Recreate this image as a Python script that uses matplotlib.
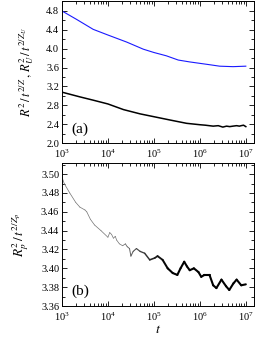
import numpy as np
import matplotlib
matplotlib.use("Agg")
import matplotlib.pyplot as plt
from matplotlib.collections import LineCollection
from matplotlib.ticker import MultipleLocator, LogLocator, NullFormatter

plt.rcParams['font.family'] = ['Liberation Serif', 'DejaVu Serif']
plt.rcParams['mathtext.fontset'] = 'stix'
plt.rcParams['xtick.direction'] = 'in'
plt.rcParams['ytick.direction'] = 'in'

# panel (a): log10(t) and values
logt_u = [3.0, 3.32, 3.68, 4.0, 4.41, 4.77, 5.0, 5.27, 5.53, 5.78, 6.0, 6.22, 6.43, 6.72, 7.0]
ru = [4.80, 4.62, 4.41, 4.29, 4.14, 3.99, 3.92, 3.85, 3.76, 3.72, 3.69, 3.66, 3.63, 3.62, 3.63]

logt_r = [3.0, 3.39, 3.68, 4.0, 4.34, 4.70, 5.0, 5.35, 5.71, 6.0, 6.12, 6.29, 6.40,
          6.50, 6.58, 6.65, 6.72, 6.80, 6.86, 6.90, 6.95, 7.0]
rr = [3.08, 2.98, 2.91, 2.83, 2.71, 2.62, 2.56, 2.49, 2.42, 2.39, 2.38, 2.36, 2.37,
      2.34, 2.36, 2.35, 2.36, 2.37, 2.36, 2.37, 2.38, 2.35]

# panel (b)
logt_p = [3.00, 3.05, 3.17, 3.30, 3.39, 3.50, 3.54, 3.62, 3.71, 3.85, 4.00, 4.04, 4.08,
          4.12, 4.16, 4.19, 4.25, 4.32, 4.38, 4.42, 4.47, 4.50, 4.55, 4.62, 4.70, 4.80,
          4.91, 5.02, 5.08, 5.19, 5.30, 5.41, 5.51, 5.58, 5.66, 5.72, 5.78, 5.87, 5.97,
          6.03, 6.10, 6.21, 6.29, 6.36, 6.47, 6.57, 6.64, 6.73, 6.80, 6.90, 7.00]
rp = [3.497, 3.490, 3.480, 3.470, 3.465, 3.462, 3.460, 3.452, 3.446, 3.440, 3.433, 3.438, 3.436,
      3.432, 3.434, 3.430, 3.426, 3.424, 3.426, 3.423, 3.421, 3.413, 3.418, 3.421, 3.418, 3.416,
      3.409, 3.411, 3.413, 3.409, 3.400, 3.395, 3.393, 3.400, 3.407, 3.402, 3.398, 3.400, 3.396,
      3.391, 3.393, 3.393, 3.382, 3.379, 3.388, 3.381, 3.377, 3.384, 3.388, 3.382, 3.383]

fig = plt.figure(figsize=(2.57, 3.40), dpi=100)
ax1 = fig.add_axes([0.241, 0.579, 0.747, 0.418])
ax2 = fig.add_axes([0.241, 0.100, 0.747, 0.421])

ax1.plot(10 ** np.array(logt_u), ru, color='#1a1aff', lw=0.8)
ax1.plot(10 ** np.array(logt_r), rr, color='black', lw=1.1)

# panel (b): line gets heavier as the noise grows
tp = 10 ** np.array(logt_p)
pts = np.column_stack([tp, rp])
segs = np.stack([pts[:-1], pts[1:]], axis=1)
mid = (np.array(logt_p[:-1]) + np.array(logt_p[1:])) / 2
w = np.clip((mid - 4.3) / 1.0, 0, 1)
lc = LineCollection(segs, linewidths=0.5 + 1.0 * w,
                    colors=[(0.45 * (1 - v),) * 3 for v in w], capstyle='round',
                    joinstyle='round')
ax2.add_collection(lc)

for ax in (ax1, ax2):
    ax.set_xscale('log')
    ax.set_xlim(1e3, 1.5e7)
    ax.xaxis.set_major_locator(LogLocator(base=10, numticks=10))
    ax.xaxis.set_minor_locator(LogLocator(base=10, subs=np.arange(2, 10), numticks=20))
    ax.xaxis.set_minor_formatter(NullFormatter())
    ax.tick_params(which='both', top=True, right=True, labelsize=7.5, width=0.6)
    ax.tick_params(axis='y', pad=2)
    ax.tick_params(axis='x', pad=3.5)
    ax.tick_params(which='major', length=3.5)
    ax.tick_params(which='minor', length=2)
    for s in ax.spines.values():
        s.set_linewidth(0.7)

ax1.set_ylim(2.0, 5.01)
ax1.yaxis.set_major_locator(MultipleLocator(0.4))
ax1.yaxis.set_minor_locator(MultipleLocator(0.2))
ax1.yaxis.set_major_formatter(matplotlib.ticker.FormatStrFormatter('%.1f'))
ax1.set_ylabel(r'$R^2\,/\,t^{2/Z}\,,\,R_U^2\,/\,t^{2/Z_U}$', fontsize=9, labelpad=7)
ax1.text(0.05, 0.1, '(a)', transform=ax1.transAxes, fontsize=11, va='center')

ax2.set_ylim(3.36, 3.512)
ax2.yaxis.set_major_locator(MultipleLocator(0.02))
ax2.yaxis.set_minor_locator(MultipleLocator(0.01))
ax2.yaxis.set_major_formatter(matplotlib.ticker.FormatStrFormatter('%.2f'))
ax2.set_ylabel(r'$R_p^2\,/\,t^{2/Z_p}$', fontsize=9.5, labelpad=7)
ax2.set_xlabel(r'$t$', fontsize=10, labelpad=0)
ax2.text(0.05, 0.1, '(b)', transform=ax2.transAxes, fontsize=11, va='center')

fig.savefig('out.png', dpi=100)
